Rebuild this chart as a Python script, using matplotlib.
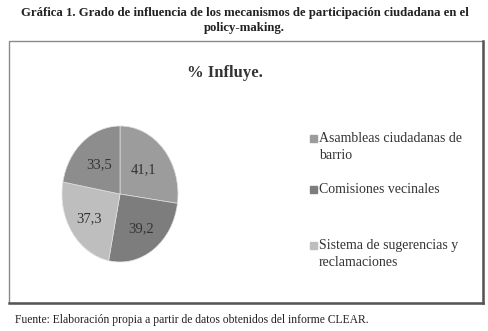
import matplotlib.pyplot as plt
from matplotlib.patches import Rectangle
from matplotlib.lines import Line2D
import numpy as np

valores = [41.1, 39.2, 37.3, 33.5]
etiquetas = ['41,1', '39,2', '37,3', '33,5']
colores = ['#9c9c9c', '#7d7d7d', '#bebebe', '#8d8d8d']
leyenda = ['Asambleas ciudadanas de\nbarrio', 'Comisiones vecinales',
           'Sistema de sugerencias y\nreclamaciones']

W, H = 489, 331
fig = plt.figure(figsize=(W / 100, H / 100), dpi=100)
serif = 'Liberation Serif'

# titulo
fig.text(0.5, 1 - 13 / H, 'Gráfica 1. Grado de influencia de los mecanismos de participación ciudadana en el',
         ha='center', va='center', fontsize=9.15, fontweight='bold', family=serif, color='#222222')
fig.text(0.5, 1 - 28 / H, 'policy-making.', ha='center', va='center',
         fontsize=9.15, fontweight='bold', family=serif, color='#222222')

# marco con sombra
x0, y0, x1, y1 = 9, 41, 483, 303
fig.patches.append(Rectangle((x0 / W, 1 - y1 / H), (x1 - x0) / W, (y1 - y0) / H,
                             transform=fig.transFigure, fill=False,
                             edgecolor='#8a8a8a', linewidth=1.0))
fig.lines.append(Line2D([x1 / W, x1 / W], [1 - y0 / H, 1 - y1 / H], transform=fig.transFigure,
                        color='#555555', linewidth=1.8))
fig.lines.append(Line2D([x0 / W, x1 / W], [1 - y1 / H, 1 - y1 / H], transform=fig.transFigure,
                        color='#555555', linewidth=1.8))

fig.text(225 / W, 1 - 73 / H, '% Influye.', ha='center', va='center',
         fontsize=12, fontweight='bold', family=serif, color='#333333')

# pastel (eliptico)
cx, cy, rx, ry = 120, 194, 58, 68
ax = fig.add_axes([(cx - rx) / W, 1 - (cy + ry) / H, 2 * rx / W, 2 * ry / H])
wedges, _ = ax.pie(valores, colors=colores, startangle=90, counterclock=False,
                   wedgeprops=dict(linewidth=0.5, edgecolor='#e0e0e0'))
ax.set_aspect('auto')
ax.set_xlim(-1, 1)
ax.set_ylim(-1, 1)
ax.axis('off')
for w, t, r in zip(wedges, etiquetas, [0.55, 0.63, 0.64, 0.56]):
    ang = np.deg2rad((w.theta1 + w.theta2) / 2)
    ax.text(r * np.cos(ang), r * np.sin(ang), t, ha='center', va='center',
            fontsize=10.5, family=serif, color='#333333')

# leyenda
ys = [139, 190, 246]
for y, txt, c in zip(ys, leyenda, colores[:3]):
    fig.patches.append(Rectangle((310 / W, 1 - (y + 3) / H), 7 / W, 7 / H,
                                 transform=fig.transFigure, color=c))
    fig.text(319 / W, 1 - (y - 7) / H, txt, ha='left', va='top', fontsize=10,
             family=serif, color='#333333', linespacing=1.4)

fig.text(15 / W, 1 - 320 / H, 'Fuente: Elaboración propia a partir de datos obtenidos del informe CLEAR.',
         ha='left', va='center', fontsize=8.4, family=serif, color='#222222')

fig.savefig('out.png', dpi=100)
